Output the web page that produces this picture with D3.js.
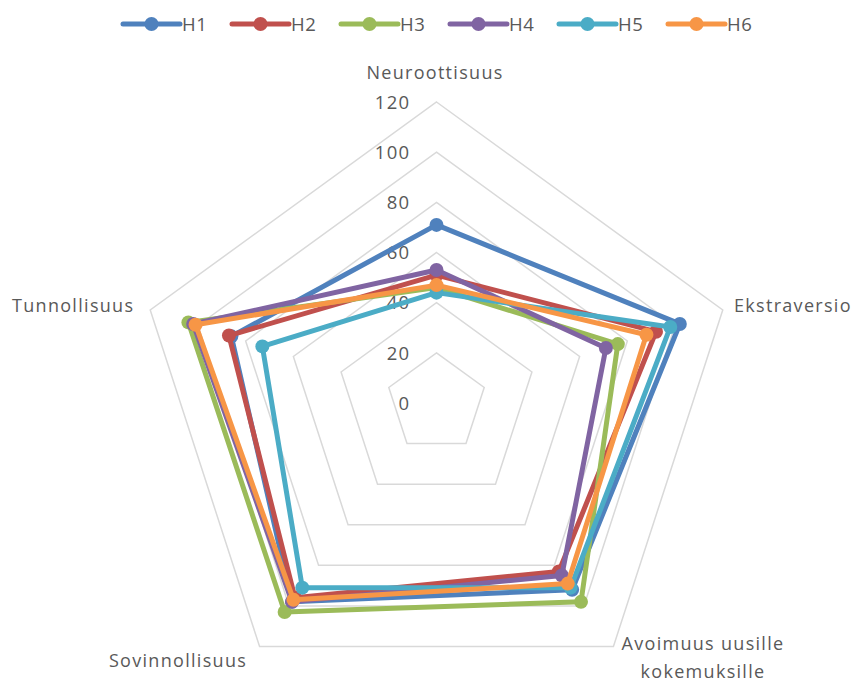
<!DOCTYPE html>
<html>
<head>
<meta charset="utf-8">
<script src="https://cdn.jsdelivr.net/npm/d3@7"></script>
<style>
  html, body { margin: 0; padding: 0; background: #ffffff; }
  svg { display: block; font-family: "Open Sans", "Liberation Sans", sans-serif; }
</style>
</head>
<body>
<svg id="chart" width="858" height="682"></svg>
<script>
// Big Five personality dimensions, one axis each
const axes = ["Neuroottisuus", "Ekstraversio", "Avoimuus uusille kokemuksille", "Sovinnollisuus", "Tunnollisuus"];
const seriesNames = ["H1", "H2", "H3", "H4", "H5", "H6"];
const colors = ["#4F81BD", "#C0504D", "#9BBB59", "#8064A2", "#4BACC6", "#F79646"];

// Scores per person, in axis order
const h1 = [71, 102, 92, 98, 86];
const h2 = [51, 92, 83, 96, 87];
const h3 = [46, 76, 98, 103, 104];
const h4 = [53, 71, 85, 98, 102];
const h5 = [44, 98, 91, 91, 73];
const h6 = [47, 88, 89, 97, 101];
const seriesValues = [h1, h2, h3, h4, h5, h6];

const tickValues = [0, 20, 40, 60, 80, 100, 120];

const svg = d3.select("#chart");
const cx = 436.5, cy = 403;
const r = d3.scaleLinear().domain([0, 120]).range([0, 301]);
const angle = d3.scalePoint().domain(d3.range(axes.length)).range([0, 2 * Math.PI * (axes.length - 1) / axes.length]);

const g = svg.append("g").attr("transform", `translate(${cx},${cy})`);

// Concentric pentagon gridlines
const ring = d3.lineRadial().curve(d3.curveLinearClosed)
  .angle((d, i) => angle(i)).radius(d => r(d));
g.append("g").selectAll("path")
  .data(tickValues.filter(v => v > 0))
  .join("path")
  .attr("d", v => ring(axes.map(() => v)))
  .attr("fill", "none")
  .attr("stroke", "#d9d9d9")
  .attr("stroke-width", 1.5);

// Radial value labels along the top axis
g.append("g").selectAll("text")
  .data(tickValues)
  .join("text")
  .attr("x", -26)
  .attr("y", v => -r(v))
  .attr("dy", "0.36em")
  .attr("text-anchor", "end")
  .attr("fill", "#595959")
  .attr("font-size", 18.5)
  .attr("letter-spacing", 1.3)
  .text(v => v);

// Series polygons, first series underneath
const line = d3.lineRadial().curve(d3.curveLinearClosed)
  .angle((d, i) => angle(i)).radius(d => r(d));
const series = g.append("g").selectAll("g")
  .data(seriesValues)
  .join("g");
series.append("path")
  .attr("d", d => line(d))
  .attr("fill", "none")
  .attr("stroke", (d, i) => colors[i])
  .attr("stroke-width", 5)
  .attr("stroke-linejoin", "round");
series.selectAll("circle")
  .data((d, si) => d.map((v, i) => ({v, i, si})))
  .join("circle")
  .attr("cx", d => r(d.v) * Math.sin(angle(d.i)))
  .attr("cy", d => -r(d.v) * Math.cos(angle(d.i)))
  .attr("r", 7)
  .attr("fill", d => colors[d.si]);

// Axis category labels
const labelPos = [
  {x: 435, y: 79, anchor: "middle", lines: ["Neuroottisuus"]},
  {x: 734, y: 312, anchor: "start", lines: ["Ekstraversio"]},
  {x: 703, y: 650, anchor: "middle", lines: ["Avoimuus uusille", "kokemuksille"]},
  {x: 178, y: 667, anchor: "middle", lines: ["Sovinnollisuus"]},
  {x: 12, y: 312, anchor: "start", lines: ["Tunnollisuus"]}
];
svg.append("g").selectAll("text")
  .data(axes)
  .join("text")
  .attr("x", (d, i) => labelPos[i].x)
  .attr("y", (d, i) => labelPos[i].y)
  .attr("text-anchor", (d, i) => labelPos[i].anchor)
  .attr("fill", "#595959")
  .attr("font-size", 18)
  .attr("letter-spacing", 1.3)
  .each(function(d, i) {
    d3.select(this).selectAll("tspan")
      .data(labelPos[i].lines)
      .join("tspan")
      .attr("x", labelPos[i].x)
      .attr("dy", (t, j) => j === 0 ? 0 : 28)
      .text(t => t);
  });

// Legend
const legend = svg.append("g").attr("transform", "translate(123,24)");
const item = legend.selectAll("g")
  .data(seriesNames)
  .join("g")
  .attr("transform", (d, i) => `translate(${i * 109},0)`);
item.append("line")
  .attr("x1", 0).attr("x2", 57)
  .attr("stroke", (d, i) => colors[i])
  .attr("stroke-width", 5)
  .attr("stroke-linecap", "round");
item.append("circle")
  .attr("cx", 28.5).attr("r", 7)
  .attr("fill", (d, i) => colors[i]);
item.append("text")
  .attr("x", 59)
  .attr("dy", "0.36em")
  .attr("fill", "#595959")
  .attr("font-size", 18.5)
  .attr("letter-spacing", 0.5)
  .text(d => d);
</script>
</body>
</html>
